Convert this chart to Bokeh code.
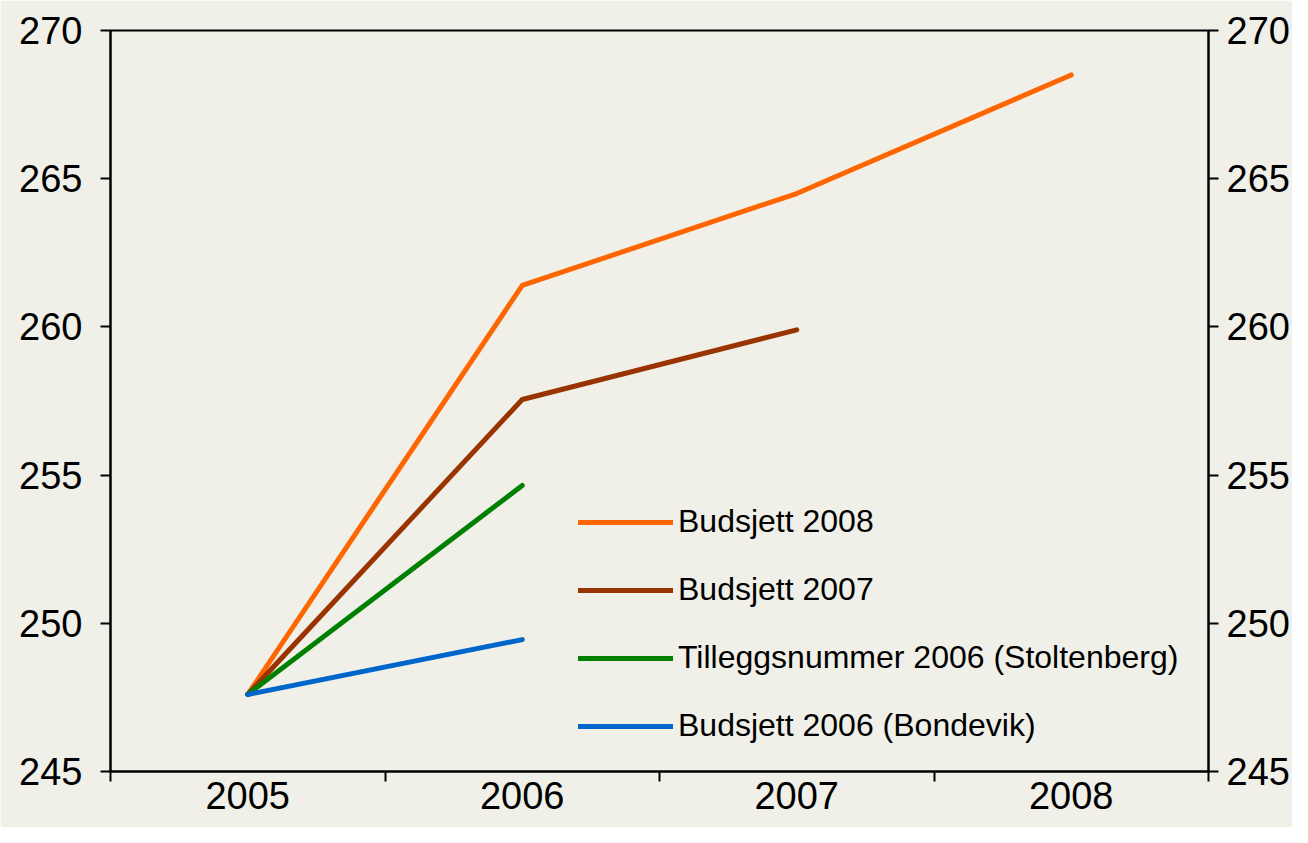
from bokeh.plotting import figure
from bokeh.models import (Range1d, LinearAxis, FixedTicker, Legend, LegendItem)
from bokeh.embed import file_html
from bokeh.resources import INLINE

years = ["2005", "2006", "2007", "2008"]
budsjett_2008 = [247.6, 261.4, 264.5, 268.5]
budsjett_2007 = [247.6, 257.55, 259.9]
tillegg_2006 = [247.6, 254.65]
budsjett_2006 = [247.6, 249.45]

series_names = ["Budsjett 2008", "Budsjett 2007",
                "Tilleggsnummer 2006 (Stoltenberg)", "Budsjett 2006 (Bondevik)"]
series_values = [budsjett_2008, budsjett_2007, tillegg_2006, budsjett_2006]
series_colors = ["#FF6600", "#993300", "#008000", "#0066CC"]

y_ticks = [245, 250, 255, 260, 265, 270]

BG = "#F0EFE8"
FONT = "Liberation Sans"

p = figure(width=1292, height=827, output_backend="svg", toolbar_location=None,
           x_range=Range1d(0, len(years)), y_range=Range1d(245, 270),
           min_border_left=110, min_border_right=82, min_border_top=30,
           min_border_bottom=56)
p.background_fill_color = BG
p.border_fill_color = BG
p.outline_line_color = "black"
p.outline_line_width = 2
p.xgrid.visible = False
p.ygrid.visible = False

centers = [i + 0.5 for i in range(len(years))]

# x axis: labels at category centres, tick marks at category boundaries
xa = p.xaxis[0]
xa.ticker = FixedTicker(ticks=centers, minor_ticks=list(range(len(years) + 1)))
xa.major_label_overrides = {c: y for c, y in zip(centers, years)}
xa.major_tick_line_color = None
xa.major_tick_out = 10
xa.major_tick_in = 0
xa.minor_tick_out = 10
xa.minor_tick_in = 0
xa.minor_tick_line_width = 2
xa.minor_tick_line_color = "black"
xa.axis_line_width = 2
xa.axis_line_color = "black"
xa.major_label_text_font = FONT
xa.major_label_text_font_size = "38px"
xa.major_label_text_color = "black"
xa.major_label_standoff = 0

def style_y(ax, standoff):
    ax.ticker = FixedTicker(ticks=y_ticks)
    ax.major_tick_out = 10
    ax.major_tick_in = 0
    ax.major_tick_line_width = 2
    ax.minor_tick_line_color = None
    ax.axis_line_width = 2
    ax.axis_line_color = "black"
    ax.major_label_text_font = FONT
    ax.major_label_text_font_size = "38px"
    ax.major_label_text_color = "black"
    ax.major_label_standoff = standoff

style_y(p.yaxis[0], 18)
ra = LinearAxis()
style_y(ra, 8)
p.add_layout(ra, "right")

items = []
for name, vals, col in zip(series_names, series_values, series_colors):
    xs = centers[:len(vals)]
    r = p.line(xs, vals, line_color=col, line_width=5,
               line_cap="round", line_join="round")
    items.append(LegendItem(label=name, renderers=[r]))

legend = Legend(items=items, location=(468, 27))
legend.padding = 0
legend.margin = 0
legend.border_line_color = None
legend.background_fill_alpha = 0
legend.glyph_width = 95
legend.glyph_height = 30
legend.label_height = 30
legend.label_standoff = 5
legend.spacing = 31
legend.label_text_font = FONT
legend.label_text_font_size = "32px"
legend.label_text_color = "black"
p.add_layout(legend)

open("out.html", "w").write(file_html(p, INLINE))
